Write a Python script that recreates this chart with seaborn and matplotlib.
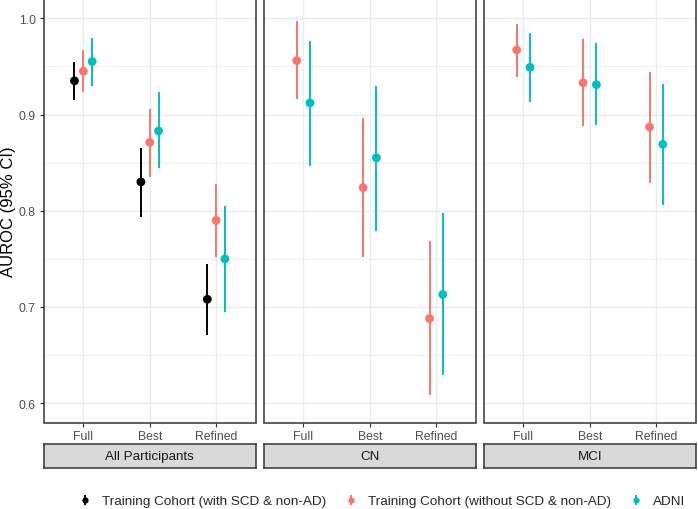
import numpy as np
import pandas as pd
import matplotlib
matplotlib.use("Agg")
import matplotlib.pyplot as plt
from matplotlib.lines import Line2D
from matplotlib.legend_handler import HandlerTuple
import seaborn as sns

# ---------------- data ----------------
models = ["Full", "Best", "Refined"]
panels = ["All Participants", "CN", "MCI"]
cohorts = ["Training Cohort (with SCD & non-AD)",
           "Training Cohort (without SCD & non-AD)",
           "ADNI"]
colors = ["#000000", "#F8766D", "#00BFC4"]

# All Participants
all_with_auc = [0.935, 0.830, 0.708]
all_with_lo = [0.915, 0.794, 0.671]
all_with_hi = [0.955, 0.865, 0.745]
all_without_auc = [0.945, 0.871, 0.790]
all_without_lo = [0.923, 0.835, 0.752]
all_without_hi = [0.967, 0.906, 0.828]
all_adni_auc = [0.955, 0.883, 0.750]
all_adni_lo = [0.930, 0.844, 0.695]
all_adni_hi = [0.979, 0.923, 0.805]
# CN
cn_without_auc = [0.956, 0.824, 0.688]
cn_without_lo = [0.916, 0.752, 0.609]
cn_without_hi = [0.997, 0.896, 0.769]
cn_adni_auc = [0.912, 0.855, 0.713]
cn_adni_lo = [0.847, 0.779, 0.629]
cn_adni_hi = [0.976, 0.930, 0.798]
# MCI
mci_without_auc = [0.967, 0.933, 0.887]
mci_without_lo = [0.939, 0.888, 0.829]
mci_without_hi = [0.994, 0.978, 0.944]
mci_adni_auc = [0.949, 0.931, 0.869]
mci_adni_lo = [0.913, 0.889, 0.806]
mci_adni_hi = [0.985, 0.974, 0.932]

series = [
    ("All Participants", cohorts[0], all_with_auc, all_with_lo, all_with_hi),
    ("All Participants", cohorts[1], all_without_auc, all_without_lo, all_without_hi),
    ("All Participants", cohorts[2], all_adni_auc, all_adni_lo, all_adni_hi),
    ("CN", cohorts[1], cn_without_auc, cn_without_lo, cn_without_hi),
    ("CN", cohorts[2], cn_adni_auc, cn_adni_lo, cn_adni_hi),
    ("MCI", cohorts[1], mci_without_auc, mci_without_lo, mci_without_hi),
    ("MCI", cohorts[2], mci_adni_auc, mci_adni_lo, mci_adni_hi),
]
rows = []
for panel, coh, auc, lo, hi in series:
    for m, a, l, h in zip(models, auc, lo, hi):
        rows.append(dict(panel=panel, cohort=coh, model=m, auc=a, lo=l, hi=h))
df = pd.DataFrame(rows)

# ---------------- style ----------------
sns.set_theme(style="white")
plt.rcParams["font.family"] = ["Liberation Sans", "DejaVu Sans"]

W, H = 698, 510
fig = plt.figure(figsize=(W / 100, H / 100), dpi=100)

palette = dict(zip(cohorts, colors))
grey20, grey30 = "#333333", "#4D4D4D"
left0, pw, gap = 43.5, 212.5, 7.5
ax_bottom_px, ax_top_px = 423.5, 0.0
strip_top, strip_bot = 445, 469
dodge_width = 0.4

for k, panel in enumerate(panels):
    x0 = left0 + k * (pw + gap)
    ax = fig.add_axes([x0 / W, (H - ax_bottom_px) / H, pw / W,
                       (ax_bottom_px - ax_top_px) / H])
    sub = df[df["panel"] == panel].copy()
    present = [c for c in cohorts if c in set(sub["cohort"])]
    n = len(present)
    offs = {c: (i - (n - 1) / 2) * dodge_width / n for i, c in enumerate(present)}
    sub["xpos"] = [models.index(m) + offs[c] for m, c in zip(sub["model"], sub["cohort"])]

    for c in present:
        s = sub[sub["cohort"] == c]
        ax.vlines(s["xpos"], s["lo"], s["hi"], color=palette[c], lw=1.4, zorder=3)
    sns.scatterplot(data=sub, x="xpos", y="auc", hue="cohort", palette=palette,
                    hue_order=present, s=40, edgecolor="none", linewidth=0,
                    legend=False, ax=ax, zorder=4)

    ax.set_xlim(-0.6, 2.6)
    ax.set_ylim(0.58, 1.02)
    ax.set_xticks(range(len(models)))
    ax.set_xticklabels(models)
    ax.set_yticks([0.6, 0.7, 0.8, 0.9, 1.0])
    ax.set_yticks([0.65, 0.75, 0.85, 0.95], minor=True)
    ax.grid(True, which="major", color="#EBEBEB", lw=1.0, zorder=0)
    ax.grid(True, which="minor", axis="y", color="#EBEBEB", lw=0.5, zorder=0)
    ax.set_axisbelow(True)
    ax.set_xlabel("")
    ax.set_ylabel("")
    for sp in ax.spines.values():
        sp.set_color(grey20)
        sp.set_linewidth(1.1)
    ax.tick_params(axis="both", which="major", length=3.0, width=0.8,
                   color=grey20, labelcolor=grey30, labelsize=8.8, pad=2.5,
                   bottom=True, left=(k == 0))
    ax.tick_params(axis="y", which="minor", length=0)
    if k == 0:
        ax.set_yticklabels(["0.6", "0.7", "0.8", "0.9", "1.0"])
    else:
        ax.set_yticklabels([])

    # strip (facet label below the panel)
    sax = fig.add_axes([x0 / W, (H - strip_bot) / H, pw / W,
                        (strip_bot - strip_top) / H])
    sax.set_facecolor("#D9D9D9")
    sax.set_xticks([])
    sax.set_yticks([])
    for sp in sax.spines.values():
        sp.set_color(grey20)
        sp.set_linewidth(1.1)
    sax.text(0.5, 0.5, panel, ha="center", va="center", fontsize=9.6,
             color="#1A1A1A", transform=sax.transAxes)

# y-axis title
fig.text(8.5 / W, 1 - 212 / H, "AUROC (95% CI)", rotation=90, ha="center",
         va="center", fontsize=12, color="black")

# legend
handles = []
for c in cohorts:
    vl = Line2D([], [], color=palette[c], marker="|", markersize=7.5,
                markeredgewidth=1.4, linestyle="none")
    dot = Line2D([], [], color=palette[c], marker="o", markersize=4.5,
                 markeredgewidth=0, linestyle="none")
    handles.append((vl, dot))
fig.legend(handles, cohorts, handler_map={tuple: HandlerTuple(ndivide=1)},
           loc="center left", bbox_to_anchor=(78 / W, 1 - 502 / H), ncol=3,
           frameon=False, fontsize=9.7, handlelength=1.0, handletextpad=0.8,
           columnspacing=1.3, borderpad=0, borderaxespad=0)

fig.savefig("out.png", dpi=100)
